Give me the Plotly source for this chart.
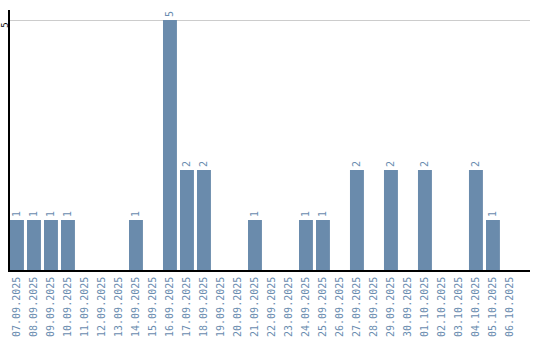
import plotly.graph_objects as go

dates = ["07.09.2025", "08.09.2025", "09.09.2025", "10.09.2025", "11.09.2025", "12.09.2025",
         "13.09.2025", "14.09.2025", "15.09.2025", "16.09.2025", "17.09.2025", "18.09.2025",
         "19.09.2025", "20.09.2025", "21.09.2025", "22.09.2025", "23.09.2025", "24.09.2025",
         "25.09.2025", "26.09.2025", "27.09.2025", "28.09.2025", "29.09.2025", "30.09.2025",
         "01.10.2025", "02.10.2025", "03.10.2025", "04.10.2025", "05.10.2025", "06.10.2025"]
counts = [1, 1, 1, 1, 0, 0, 0, 1, 0, 5, 2, 2, 0, 0, 1, 0, 0, 1, 1, 0, 2, 0, 2, 0, 2, 0, 0, 2, 1, 0]

labels = [str(v) if v > 0 else "" for v in counts]

bar_color = "#6a8bac"
text_color = "#6a8caf"

fig = go.Figure(go.Bar(
    x=dates, y=counts, marker_color=bar_color, marker_line_width=0,
    text=labels, textposition="outside", textangle=-90,
    textfont=dict(family="DejaVu Sans Mono", size=10, color=text_color),
    cliponaxis=False,
))

fig.update_layout(
    width=540, height=340,
    margin=dict(l=10, r=10, t=10, b=70),
    paper_bgcolor="white", plot_bgcolor="white",
    bargap=0.18, showlegend=False,
    uniformtext=dict(minsize=10, mode="show"),
)
fig.update_xaxes(
    type="category", range=[-0.41, 30.18], automargin=False,
    tickangle=-90, tickfont=dict(family="DejaVu Sans Mono", size=10, color=text_color),
    ticklabelstandoff=1,
    showline=True, linecolor="black", linewidth=1.5, showgrid=False, ticks="",
)
fig.update_yaxes(
    range=[0, 5.2], tickvals=[5], ticktext=["5"], tickangle=-90, automargin=False,
    tickfont=dict(family="DejaVu Sans Mono", size=9, color="black"),
    ticklabelposition="outside bottom", ticklabelstandoff=-3,
    showline=True, linecolor="black", linewidth=1.5,
    showgrid=True, gridcolor="#cccccc", gridwidth=1, zeroline=False, ticks="",
)

fig.write_html("out.html")
